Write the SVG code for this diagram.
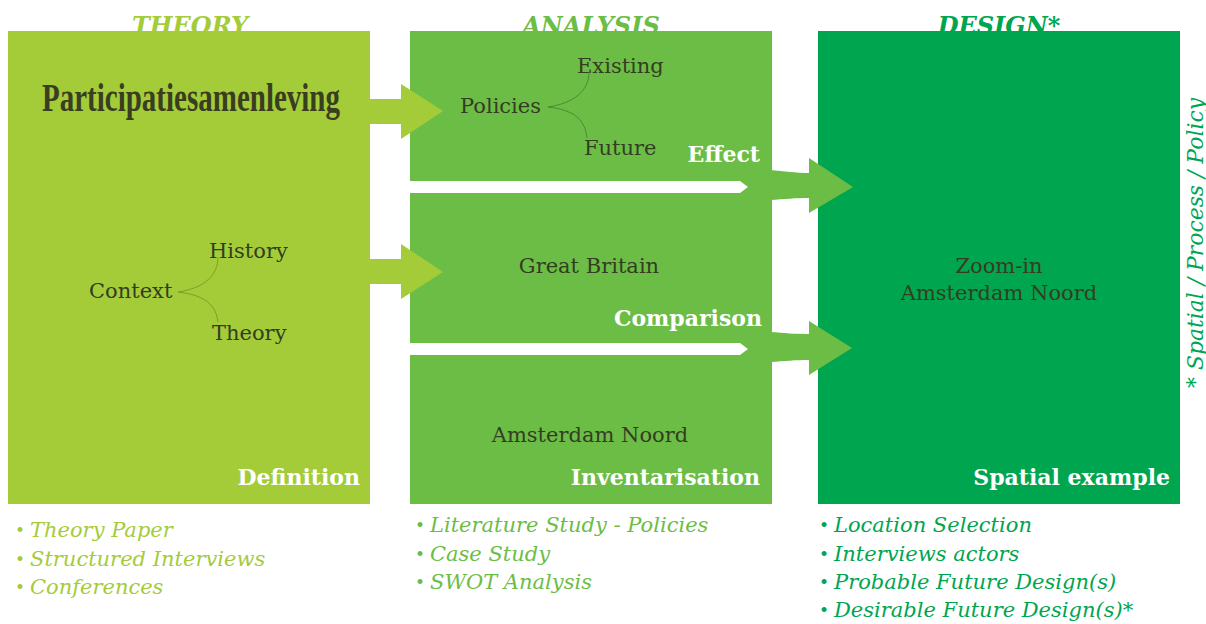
<svg xmlns="http://www.w3.org/2000/svg" width="1206" height="624" viewBox="0 0 1206 624">
<style>
.hdr{font-family:"DejaVu Serif","Liberation Serif",serif;font-weight:bold;font-style:italic;font-size:24px;text-anchor:middle}
.t{font-family:"DejaVu Serif","Liberation Serif",serif;font-size:21px;fill:#333d22}
.w{font-family:"DejaVu Serif","Liberation Serif",serif;font-size:22px;font-weight:bold;fill:#ffffff;text-anchor:end}
.li{font-family:"DejaVu Serif","Liberation Serif",serif;font-size:21px;font-style:italic}
.bul{font-style:normal;font-size:17px}
.cv{fill:none;stroke-width:1}
</style>
<rect width="1206" height="624" fill="#ffffff"/>
<g id="headers">
<text class="hdr" x="190" y="34" fill="#a4cc39">THEORY</text>
<text class="hdr" x="591" y="34" fill="#6cbd45">ANALYSIS</text>
<text class="hdr" x="999" y="34" fill="#00a54f">DESIGN*</text>
</g>
<g id="theory">
<rect x="8" y="31" width="362" height="473" fill="#a4cc39"/>
<text x="42" y="111" font-family="Liberation Serif, serif" font-weight="bold" font-size="39" fill="#3a3e20" textLength="298" lengthAdjust="spacingAndGlyphs">Participatiesamenleving</text>
<text class="t" x="89" y="298">Context</text>
<text class="t" x="209" y="258">History</text>
<text class="t" x="212" y="340">Theory</text>
<path class="cv" stroke="#7e9e2c" d="M178,292 C205,288 218,275 218,257 M178,292 C205,295 216,305 218,322"/>
<text class="w" x="360" y="485">Definition</text>
</g>
<g id="analysis">
<rect x="410" y="31" width="362" height="473" fill="#6cbd45"/>
<text class="t" x="460" y="113">Policies</text>
<text class="t" x="577" y="73">Existing</text>
<text class="t" x="584" y="155">Future</text>
<path class="cv" stroke="#4b8a35" d="M548,107 C575,103 589,90 589,72 M548,107 C575,110 585,120 587,138"/>
<text class="w" x="760" y="162">Effect</text>
<text class="t" x="589" y="273" text-anchor="middle">Great Britain</text>
<text class="w" x="762" y="326">Comparison</text>
<text class="t" x="590" y="442" text-anchor="middle">Amsterdam Noord</text>
<text class="w" x="760" y="485">Inventarisation</text>
</g>
<g id="design">
<rect x="818" y="31" width="362" height="473" fill="#00a54f"/>
<text class="t" x="999" y="273" text-anchor="middle">Zoom-in</text>
<text class="t" x="999" y="300" text-anchor="middle">Amsterdam Noord</text>
<text class="w" x="1170" y="485">Spatial example</text>
</g>
<g id="connectors">
<polygon fill="#a4cc39" points="370,99 401,99 401,84 443,111 401,139 401,124 370,124"/>
<polygon fill="#a4cc39" points="370,259 401,259 401,244 443,272 401,299 401,284 370,284"/>
<polygon fill="#ffffff" points="410,181 740,181 748,187 740,193 410,193"/>
<polygon fill="#ffffff" points="410,343 740,343 748,349 740,355 410,355"/>
<path fill="#6cbd45" d="M770,170 C785,171 795,173 809,173 L809,158 L853,187 L809,213 L809,198 C795,198 785,199 770,200 Z"/>
<path fill="#6cbd45" d="M770,332 C785,333 795,334 809,334 L809,321 L852,348 L809,375 L809,360 C795,360 785,361 770,362 Z"/>
</g>
<g id="vertical-note">
<text transform="translate(1203,388) rotate(-90)" x="0" y="0" font-family="DejaVu Serif, Liberation Serif, serif" font-style="italic" font-size="23" fill="#00a54f" textLength="290" lengthAdjust="spacingAndGlyphs">* Spatial / Process / Policy</text>
</g>
<g id="lists">
<text class="li" fill="#a4cc39"><tspan class="bul" x="15" y="536">•</tspan><tspan x="30" y="537">Theory Paper</tspan><tspan class="bul" x="15" y="565">•</tspan><tspan x="30" y="566">Structured Interviews</tspan><tspan class="bul" x="15" y="593">•</tspan><tspan x="30" y="594">Conferences</tspan></text>
<text class="li" fill="#6cbd45"><tspan class="bul" x="415" y="531">•</tspan><tspan x="430" y="532">Literature Study - Policies</tspan><tspan class="bul" x="415" y="560">•</tspan><tspan x="430" y="561">Case Study</tspan><tspan class="bul" x="415" y="588">•</tspan><tspan x="430" y="589">SWOT Analysis</tspan></text>
<text class="li" fill="#00a54f"><tspan class="bul" x="819" y="531">•</tspan><tspan x="834" y="532">Location Selection</tspan><tspan class="bul" x="819" y="560">•</tspan><tspan x="834" y="561">Interviews actors</tspan><tspan class="bul" x="819" y="588">•</tspan><tspan x="834" y="589">Probable Future Design(s)</tspan><tspan class="bul" x="819" y="616">•</tspan><tspan x="834" y="617">Desirable Future Design(s)*</tspan></text>
</g>
</svg>
